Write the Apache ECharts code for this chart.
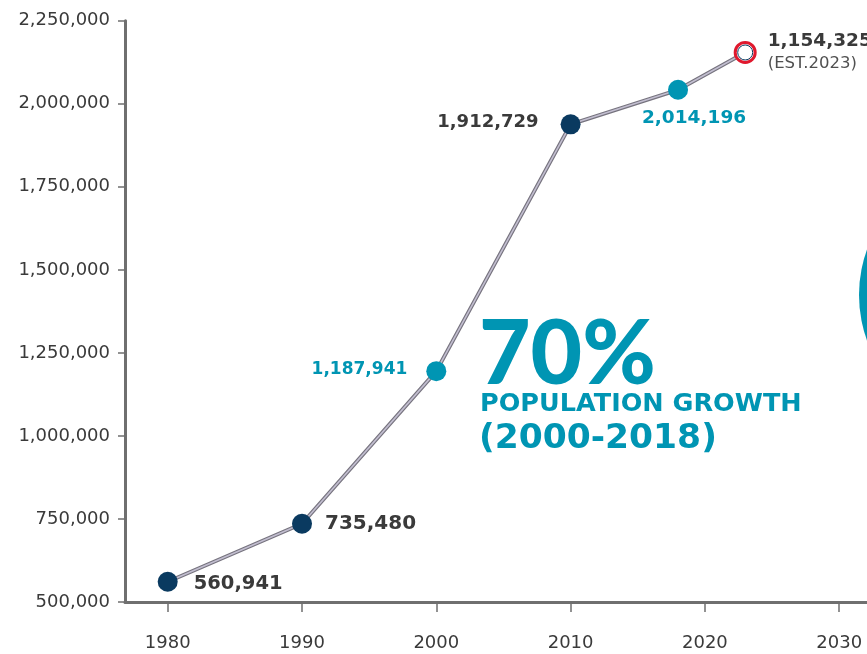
<!DOCTYPE html>
<html>
<head>
<meta charset="utf-8">
<script src="https://cdn.jsdelivr.net/npm/echarts@6/dist/echarts.min.js"></script>
<style>
html,body{margin:0;padding:0;background:#fff;}
#chart{width:867px;height:654px;}
</style>
</head>
<body>
<div id="chart"></div>
<script>
// ---- data ----
const years = [1980, 1990, 2000, 2010, 2018, 2023];
const population = [560941, 735480, 1195000, 1938000, 2042000, 2154325];
const pointLabels = ['560,941', '735,480', '1,187,941', '1,912,729', '2,014,196', '1,154,325'];
const estimateNote = '(EST.2023)';
const xTickValues = [1980, 1990, 2000, 2010, 2020, 2030];
const yMin = 500000, yMax = 2250000, yStep = 250000;
const headline = '70%';
const subline1 = 'POPULATION GROWTH';
const subline2 = '(2000-2018)';

// ---- styles ----
const NAVY = '#0a3a60', TEAL = '#0095b3', RED = '#e0182d', DARK = '#3a3a3a', AXIS = '#6f6f6f';
const kinds = ['navy', 'navy', 'teal', 'navy', 'teal', 'ring'];
const labelCfg = [
  {position: 'right', distance: 16, offset: [0, 2], fontSize: 19.5, color: DARK},
  {position: 'right', distance: 13, offset: [0, 0], fontSize: 20, color: DARK},
  {position: 'left', distance: 19, offset: [0, -2], fontSize: 17, color: TEAL},
  {position: 'left', distance: 22, offset: [0, -2], fontSize: 18, color: DARK},
  {position: 'bottom', distance: 9, offset: [16, 0], fontSize: 18.5, color: TEAL},
  {position: 'right', distance: 11, offset: [0, 0], fontSize: 18.5, color: DARK}
];

const pairs = years.map((y, i) => [y, population[i]]);
const pointData = pairs.map((p, i) => {
  const k = kinds[i];
  const lc = labelCfg[i];
  const item = {
    value: p,
    symbolSize: 20,
    itemStyle: k === 'ring'
      ? {color: '#ffffff', borderColor: RED, borderWidth: 3, opacity: 1}
      : {color: k === 'teal' ? TEAL : NAVY, borderWidth: 0, opacity: 1},
    label: {
      show: true,
      position: lc.position,
      distance: lc.distance,
      offset: lc.offset,
      fontFamily: 'DejaVu Sans',
      fontWeight: 'bold',
      fontSize: lc.fontSize,
      color: lc.color,
      opacity: 1,
      formatter: () => pointLabels[i]
    }
  };
  if (k === 'ring') {
    item.label.formatter = () => '{a|' + pointLabels[i] + '}\n{b|' + estimateNote + '}';
    item.label.align = 'left';
    item.label.rich = {
      a: {fontFamily: 'DejaVu Sans', fontWeight: 'bold', fontSize: 18.5, color: DARK, lineHeight: 23},
      b: {fontFamily: 'DejaVu Sans', fontWeight: 'normal', fontSize: 16.5, color: '#505050', lineHeight: 23}
    };
  }
  return item;
});

const chart = echarts.init(document.getElementById('chart'), null, {renderer: 'canvas'});
chart.setOption({
  animation: false,
  backgroundColor: '#ffffff',
  grid: {left: 125, right: 0, top: 20.7, bottom: 52, containLabel: false},
  xAxis: {
    type: 'value',
    min: 1976.82,
    max: 2032.07,
    splitLine: {show: false},
    axisLine: {show: true, lineStyle: {color: AXIS, width: 3}},
    axisTick: {show: true, length: 10, lineStyle: {color: AXIS, width: 1.5}, customValues: xTickValues},
    axisLabel: {
      customValues: xTickValues,
      margin: 32,
      fontFamily: 'DejaVu Sans',
      fontSize: 18,
      color: '#3a3a3a',
      formatter: v => String(v)
    }
  },
  yAxis: {
    type: 'value',
    min: yMin,
    max: yMax,
    interval: yStep,
    splitLine: {show: false},
    axisLine: {show: true, lineStyle: {color: AXIS, width: 3}},
    axisTick: {show: true, length: 7, lineStyle: {color: AXIS, width: 1.5}},
    axisLabel: {
      margin: 15,
      fontFamily: 'DejaVu Sans',
      fontSize: 18,
      color: '#3a3a3a',
      formatter: v => v.toLocaleString('en-US')
    }
  },
  series: [
    {
      type: 'line', data: pairs, symbol: 'none', silent: true, z: 2,
      lineStyle: {color: '#77747f', width: 4}
    },
    {
      type: 'line', data: pairs, symbol: 'none', silent: true, z: 3,
      lineStyle: {color: '#c2bed0', width: 1.6}
    },
    {
      type: 'scatter', data: pointData, symbol: 'circle', z: 5,
      itemStyle: {opacity: 1}
    },
    {
      type: 'scatter', data: [pairs[pairs.length - 1]], symbol: 'circle', symbolSize: 15, z: 6, silent: true,
      itemStyle: {color: 'rgba(255,255,255,0)', borderColor: NAVY, borderWidth: 1, opacity: 1}
    }
  ],
  graphic: [
    {
      type: 'circle', shape: {cx: 992, cy: 295, r: 133}, style: {fill: TEAL}, z: 1
    },
    {
      type: 'text', x: 479, y: 355, z: 10,
      style: {text: headline, fontFamily: 'Lato', fontWeight: 900, fontSize: 89, fill: TEAL, verticalAlign: 'middle', textAlign: 'left'}
    },
    {
      type: 'text', x: 480, y: 404, z: 10,
      style: {text: subline1, fontFamily: 'DejaVu Sans', fontWeight: 'bold', fontSize: 25.5, fill: TEAL, verticalAlign: 'middle', textAlign: 'left'}
    },
    {
      type: 'text', x: 479, y: 439, z: 10,
      style: {text: subline2, fontFamily: 'DejaVu Sans', fontWeight: 'bold', fontSize: 34.5, fill: TEAL, verticalAlign: 'middle', textAlign: 'left'}
    }
  ]
});
</script>
</body>
</html>
